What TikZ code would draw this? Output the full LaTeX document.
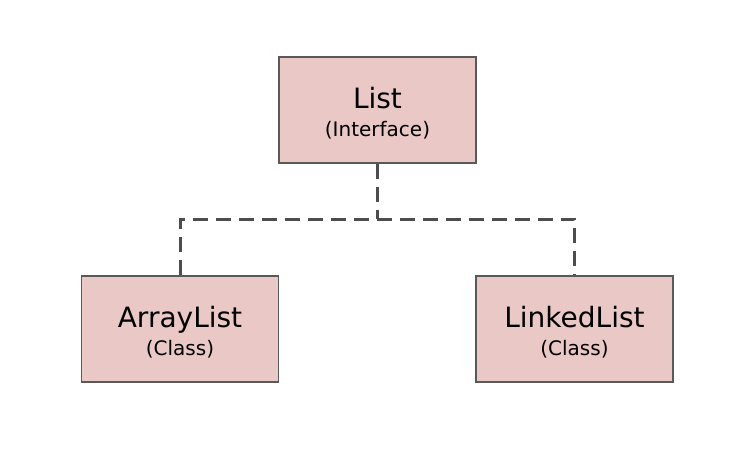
\documentclass[tikz,border=0pt]{standalone}
\usepackage{fontspec}
\setmainfont{DejaVu Sans}
\usetikzlibrary{positioning}

\definecolor{boxfill}{HTML}{EAC8C6}
\definecolor{boxline}{HTML}{595959}
\definecolor{linkline}{HTML}{4D4D4D}

% two lines: name and kind, with fixed struts so every box looks the same
\newcommand{\boxtext}[2]{{\fontsize{28}{0}\selectfont\rule[-11pt]{0pt}{42pt}#1}\\
    {\fontsize{20}{0}\selectfont\rule[-6pt]{0pt}{20pt}#2}}

\begin{document}
\begin{tikzpicture}[x=1pt, y=-1pt,
    classbox/.style={draw=boxline, line width=1.2pt, fill=boxfill, align=center,
        minimum width=197pt, minimum height=106pt, inner sep=0pt, text=black},
    link/.style={draw=linkline, line width=3pt, dash pattern=on 15pt off 8pt}]
    \useasboundingbox (0,0) rectangle (753,451);

    \node[classbox] (list) at (377.5,110) {\boxtext{List}{(Interface)}};
    \node[classbox] (arraylist) at (180,329) {\boxtext{ArrayList}{(Class)}};
    \node[classbox] (linkedlist) at (574.5,329) {\boxtext{LinkedList}{(Class)}};

    % Verzweigung unter List
    \coordinate (split) at (377.5,219);
    \draw[link] (list.south) -- (split);
    \draw[link] (arraylist.north) |- (split) -| (linkedlist.north);
\end{tikzpicture}
\end{document}
